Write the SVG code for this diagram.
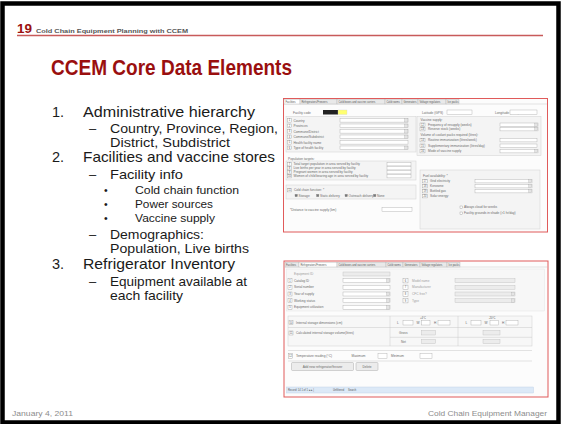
<svg xmlns="http://www.w3.org/2000/svg" width="561" height="424" viewBox="0 0 561 424">
<style>
.body{font-family:"Liberation Sans",Arial,sans-serif;fill:#1a1a1a}
.l1{font-size:14.5px}
.l2{font-size:13px}
.l3{font-size:10.5px}
.foot{font-family:"Liberation Sans",Arial,sans-serif;font-size:8px;fill:#8c8c8c}
.lb{font-family:"Liberation Sans",Arial,sans-serif;font-size:3.2px;fill:#6a6a6a}
.lbs{font-family:"Liberation Sans",Arial,sans-serif;font-size:2.6px;fill:#555}
.nm{font-family:"Liberation Sans",Arial,sans-serif;font-size:2.6px;fill:#555;text-anchor:middle}
.frame{fill:#fcfcfc;stroke:#e05a5a;stroke-width:1}
.pnl{fill:#f4f4f4;stroke:#d0d0d0;stroke-width:0.5}
.fld{fill:#ffffff;stroke:#a8a8a8;stroke-width:0.4}
.gfld{fill:#ececec;stroke:#bdbdbd;stroke-width:0.4}
.num{fill:#ffffff;stroke:#9a9a9a;stroke-width:0.4}
.dd{fill:#e4e4e4;stroke:#a8a8a8;stroke-width:0.3}
.tab{fill:#e9e9e9;stroke:#b4b4b4;stroke-width:0.4}
.tabon{fill:#ffffff;stroke:#b4b4b4;stroke-width:0.4}
.cb{fill:#ffffff;stroke:#888;stroke-width:0.35}
.cbx{fill:#777;stroke:#888;stroke-width:0.35}
.btn{fill:#ececec;stroke:#9a9a9a;stroke-width:0.4}
.ln{stroke:#c8c8c8;stroke-width:0.5;fill:none}
</style>

<rect x="0" y="0" width="561" height="424" fill="#ffffff"/>
<rect x="2.5" y="3.5" width="556" height="419" fill="none" stroke="#000" stroke-width="4.5"/>

<g id="header">
  <text x="17" y="33" font-family="Liberation Sans,Arial,sans-serif" font-weight="bold" font-size="13" fill="#9a1010" textLength="15" lengthAdjust="spacingAndGlyphs">19</text>
  <text x="36" y="33" font-family="Liberation Sans,Arial,sans-serif" font-weight="bold" font-size="6" fill="#555" textLength="152" lengthAdjust="spacingAndGlyphs">Cold Chain Equipment Planning with CCEM</text>
  <line x1="17" y1="35.5" x2="543" y2="35.5" stroke="#c85a5a" stroke-width="1.3"/>
</g>

<g id="title">
  <text x="51" y="75" font-family="Liberation Sans,Arial,sans-serif" font-weight="bold" font-size="22" fill="#9a0f0f" textLength="241" lengthAdjust="spacingAndGlyphs">CCEM Core Data Elements</text>
</g>

<g id="bullets" class="body">
  <text class="l1" x="52" y="117">1.</text>
  <text class="l1" x="83" y="117" textLength="172" lengthAdjust="spacingAndGlyphs">Administrative hierarchy</text>
  <text class="l2" x="89" y="133">–</text>
  <text class="l2" x="110" y="133" textLength="168" lengthAdjust="spacingAndGlyphs">Country, Province, Region,</text>
  <text class="l2" x="110" y="147" textLength="120" lengthAdjust="spacingAndGlyphs">District, Subdistrict</text>
  <text class="l1" x="52" y="162">2.</text>
  <text class="l1" x="83" y="162" textLength="192" lengthAdjust="spacingAndGlyphs">Facilities and vaccine stores</text>
  <text class="l2" x="89" y="179">–</text>
  <text class="l2" x="110" y="179" textLength="73" lengthAdjust="spacingAndGlyphs">Facility info</text>
  <text class="l3" x="104" y="194">•</text>
  <text class="l3" x="135" y="194" textLength="104" lengthAdjust="spacingAndGlyphs">Cold chain function</text>
  <text class="l3" x="104" y="208">•</text>
  <text class="l3" x="135" y="208" textLength="78" lengthAdjust="spacingAndGlyphs">Power sources</text>
  <text class="l3" x="104" y="222">•</text>
  <text class="l3" x="135" y="222" textLength="80" lengthAdjust="spacingAndGlyphs">Vaccine supply</text>
  <text class="l2" x="89" y="239">–</text>
  <text class="l2" x="110" y="239" textLength="94" lengthAdjust="spacingAndGlyphs">Demographics:</text>
  <text class="l2" x="110" y="253" textLength="139" lengthAdjust="spacingAndGlyphs">Population, Live births</text>
  <text class="l1" x="52" y="269">3.</text>
  <text class="l1" x="83" y="269" textLength="152" lengthAdjust="spacingAndGlyphs">Refrigerator Inventory</text>
  <text class="l2" x="89" y="286">–</text>
  <text class="l2" x="110" y="286" textLength="137" lengthAdjust="spacingAndGlyphs">Equipment available at</text>
  <text class="l2" x="110" y="300" textLength="73" lengthAdjust="spacingAndGlyphs">each facility</text>
</g>

<g id="screen-facilities" transform="translate(0,-3)">
  <rect class="frame" x="283.5" y="101.5" width="264" height="133.5"/>
  <line x1="284" y1="107" x2="547" y2="107" stroke="#bbb" stroke-width="0.4"/>
  <rect class="tabon" x="284" y="102.3" width="16" height="4.7"/>
  <rect class="tab" x="300" y="102.3" width="37" height="4.7"/>
  <rect class="tab" x="337" y="102.3" width="48" height="4.7"/>
  <rect class="tab" x="385" y="102.3" width="17" height="4.7"/>
  <rect class="tab" x="402" y="102.3" width="16" height="4.7"/>
  <rect class="tab" x="418" y="102.3" width="28" height="4.7"/>
  <rect class="tab" x="446" y="102.3" width="13" height="4.7"/>
  <text class="lbs" x="285.5" y="105.7">Facilities</text>
  <text class="lbs" x="301.5" y="105.7">Refrigerators/Freezers</text>
  <text class="lbs" x="338.5" y="105.7">Cold boxes and vaccine carriers</text>
  <text class="lbs" x="386.5" y="105.7">Cold rooms</text>
  <text class="lbs" x="403.5" y="105.7">Generators</text>
  <text class="lbs" x="419.5" y="105.7">Voltage regulators</text>
  <text class="lbs" x="447.5" y="105.7">Ice packs</text>

  <text class="lb" x="293" y="116.8">Facility code</text>
  <rect x="323" y="113" width="15" height="4.5" fill="#222"/>
  <rect x="338" y="113" width="9" height="4.5" fill="#ffff70" stroke="#ccc" stroke-width="0.3"/>

  <rect class="pnl" x="286" y="119.5" width="130" height="35.5"/>
  <g>
    <rect class="num" x="287.5" y="121.5" width="4" height="3.6"/><text class="nm" x="289.5" y="124.4">1</text>
    <text class="lb" x="293.5" y="124.6">Country</text>
    <rect class="fld" x="340" y="121.5" width="68" height="3.6"/><rect class="dd" x="404.5" y="121.6" width="3.4" height="3.4"/>
    <rect class="num" x="287.5" y="127" width="4" height="3.6"/><text class="nm" x="289.5" y="129.9">2</text>
    <text class="lb" x="293.5" y="130.1">Provinces</text>
    <rect class="fld" x="340" y="127" width="68" height="3.6"/><rect class="dd" x="404.5" y="127.1" width="3.4" height="3.4"/>
    <rect class="num" x="287.5" y="132.5" width="4" height="3.6"/><text class="nm" x="289.5" y="135.4">3</text>
    <text class="lb" x="293.5" y="135.6">Commune/District</text>
    <rect class="fld" x="340" y="132.5" width="68" height="3.6"/><rect class="dd" x="404.5" y="132.6" width="3.4" height="3.4"/>
    <rect class="num" x="287.5" y="138" width="4" height="3.6"/><text class="nm" x="289.5" y="140.9">4</text>
    <text class="lb" x="293.5" y="141.1">Commune/Subdistrict</text>
    <rect class="fld" x="340" y="138" width="68" height="3.6"/><rect class="dd" x="404.5" y="138.1" width="3.4" height="3.4"/>
    <rect class="num" x="287.5" y="143.5" width="4" height="3.6"/><text class="nm" x="289.5" y="146.4">5</text>
    <text class="lb" x="293.5" y="146.6">Health facility name</text>
    <rect class="fld" x="340" y="143.5" width="68" height="3.6"/>
    <rect class="num" x="287.5" y="149" width="4" height="3.6"/><text class="nm" x="289.5" y="151.9">6</text>
    <text class="lb" x="293.5" y="152.1">Type of health facility</text>
    <rect class="fld" x="340" y="149" width="68" height="3.6"/><rect class="dd" x="404.5" y="149.1" width="3.4" height="3.4"/>
  </g>

  <text class="lb" x="288" y="162.5">Population targets:</text>
  <rect class="pnl" x="286" y="164" width="130" height="19"/>
  <g>
    <rect class="num" x="287.5" y="165.5" width="4" height="3.4"/><text class="nm" x="289.5" y="168.2">7</text>
    <text class="lb" x="293.5" y="168.4">Total target population in area served by facility</text>
    <rect class="fld" x="387" y="165.5" width="24" height="3.4"/>
    <rect class="num" x="287.5" y="169.5" width="4" height="3.4"/><text class="nm" x="289.5" y="172.2">8</text>
    <text class="lb" x="293.5" y="172.4">Live births per year in area served by facility</text>
    <rect class="fld" x="387" y="169.5" width="24" height="3.4"/>
    <rect class="num" x="287.5" y="173.5" width="4" height="3.4"/><text class="nm" x="289.5" y="176.2">9</text>
    <text class="lb" x="293.5" y="176.4">Pregnant women in area served by facility</text>
    <rect class="fld" x="387" y="173.5" width="24" height="3.4"/>
    <rect class="num" x="287.5" y="177.5" width="4" height="3.4"/><text class="nm" x="289.5" y="180.2">10</text>
    <text class="lb" x="293.5" y="180.4">Women of child bearing age in area served by facility</text>
    <rect class="fld" x="387" y="177.5" width="24" height="3.4"/>
  </g>

  <rect class="pnl" x="286" y="188" width="130" height="14"/>
  <rect class="num" x="287.5" y="191.5" width="4" height="3.4"/><text class="nm" x="289.5" y="194.2">11</text>
  <text class="lb" x="294" y="194.4">Cold chain function: *</text>
  <rect class="cbx" x="295" y="197.3" width="2.4" height="2.4"/><text class="lb" x="298.5" y="199.7">Storage</text>
  <rect class="cbx" x="316.5" y="197.3" width="2.4" height="2.4"/><text class="lb" x="320" y="199.7">Static delivery</text>
  <rect class="cbx" x="345" y="197.3" width="2.4" height="2.4"/><text class="lb" x="348.5" y="199.7">Outreach delivery</text>
  <rect class="cbx" x="373.5" y="197.3" width="2.4" height="2.4"/><text class="lb" x="377" y="199.7">None</text>

  <text class="lb" x="290" y="213.5">*Distance to vaccine supply (km)</text>
  <rect class="fld" x="382" y="210.5" width="30" height="4"/>

  <text class="lb" x="422" y="116.8">Latitude (GPS)</text>
  <rect class="fld" x="447" y="113" width="25" height="4.5"/>
  <text class="lb" x="495" y="116.8">Longitude (GPS)</text>
  <rect class="fld" x="510" y="113" width="27" height="4.5"/>

  <rect class="pnl" x="417" y="119.5" width="124" height="39"/>
  <g>
    <text class="lb" x="420.5" y="123.5">Vaccine supply:</text>
    <rect class="num" x="420" y="126" width="5" height="3.4"/><text class="nm" x="422.5" y="128.7">12</text>
    <text class="lb" x="428" y="128.9">Frequency of resupply (weeks)</text>
    <rect class="fld" x="500" y="126" width="38" height="3.4"/><rect class="dd" x="534.6" y="126.1" width="3.2" height="3.2"/>
    <rect class="num" x="420" y="130.5" width="5" height="3.4"/><text class="nm" x="422.5" y="133.2">13</text>
    <text class="lb" x="428" y="133.4">Reserve stock (weeks)</text>
    <rect class="fld" x="500" y="130.5" width="38" height="3.4"/><rect class="dd" x="534.6" y="130.6" width="3.2" height="3.2"/>
    <text class="lb" x="420.5" y="139">Volume of coolant packs required (litres):</text>
    <rect class="num" x="420" y="141.5" width="5" height="3.4"/><text class="nm" x="422.5" y="144.2">14</text>
    <text class="lb" x="428" y="144.4">Routine immunization (litres/week)</text>
    <rect class="fld" x="500" y="141.5" width="37" height="3.4"/>
    <rect class="num" x="420" y="147" width="5" height="3.4"/><text class="nm" x="422.5" y="149.7">15</text>
    <text class="lb" x="428" y="149.9">Supplementary immunization (litres/day)</text>
    <rect class="fld" x="500" y="147" width="37" height="3.4"/>
    <rect class="num" x="420" y="152.5" width="5" height="3.4"/><text class="nm" x="422.5" y="155.2">16</text>
    <text class="lb" x="428" y="155.4">Mode of vaccine supply</text>
    <rect class="fld" x="500" y="152.5" width="38" height="3.4"/><rect class="dd" x="534.6" y="152.6" width="3.2" height="3.2"/>
  </g>

  <rect class="pnl" x="420" y="173" width="120" height="59"/>
  <g>
    <text class="lb" x="423" y="180">Fuel availability: *</text>
    <rect class="num" x="422.5" y="182.5" width="5" height="3.4"/><text class="nm" x="425" y="185.2">17</text>
    <text class="lb" x="430" y="185.4">Grid electricity</text>
    <rect class="fld" x="475" y="182.5" width="57" height="3.4"/><rect class="dd" x="528.6" y="182.6" width="3.2" height="3.2"/>
    <rect class="num" x="422.5" y="187.5" width="5" height="3.4"/><text class="nm" x="425" y="190.2">18</text>
    <text class="lb" x="430" y="190.4">Kerosene</text>
    <rect class="fld" x="475" y="187.5" width="57" height="3.4"/><rect class="dd" x="528.6" y="187.6" width="3.2" height="3.2"/>
    <rect class="num" x="422.5" y="192.5" width="5" height="3.4"/><text class="nm" x="425" y="195.2">19</text>
    <text class="lb" x="430" y="195.4">Bottled gas</text>
    <rect class="fld" x="475" y="192.5" width="57" height="3.4"/><rect class="dd" x="528.6" y="192.6" width="3.2" height="3.2"/>
    <rect class="num" x="422.5" y="197.5" width="5" height="3.4"/><text class="nm" x="425" y="200.2">20</text>
    <text class="lb" x="430" y="200.4">Solar energy:</text>
    <rect class="cb" x="460" y="209" width="2.4" height="2.4"/><text class="lb" x="464" y="211.3">Always cloud for weeks</text>
    <rect class="cb" x="460" y="215" width="2.4" height="2.4"/><text class="lb" x="464" y="217.3">Facility grounds in shade (&gt;1 hr/day)</text>
  </g>
</g>

<g id="screen-refrigerators" transform="translate(0,9)">
  <rect class="frame" x="284" y="252" width="264" height="136"/>
  <line x1="284.5" y1="258" x2="547.5" y2="258" stroke="#bbb" stroke-width="0.4"/>
  <rect class="tab" x="285" y="253.2" width="14" height="4.8"/>
  <rect class="tabon" x="299" y="253.2" width="38" height="4.8"/>
  <rect class="tab" x="337" y="253.2" width="49" height="4.8"/>
  <rect class="tab" x="386" y="253.2" width="17" height="4.8"/>
  <rect class="tab" x="403" y="253.2" width="17" height="4.8"/>
  <rect class="tab" x="420" y="253.2" width="27" height="4.8"/>
  <rect class="tab" x="447" y="253.2" width="13" height="4.8"/>
  <text class="lbs" x="286" y="256.6">Facilities</text>
  <text class="lbs" x="300.5" y="256.6">Refrigerators/Freezers</text>
  <text class="lbs" x="338.5" y="256.6">Cold boxes and vaccine carriers</text>
  <text class="lbs" x="387.5" y="256.6">Cold rooms</text>
  <text class="lbs" x="404.5" y="256.6">Generators</text>
  <text class="lbs" x="421.5" y="256.6">Voltage regulators</text>
  <text class="lbs" x="448.5" y="256.6">Ice packs</text>

  <rect x="286.5" y="260" width="258" height="42" fill="#f7f7f7" stroke="#dedede" stroke-width="0.4"/>
  <g>
    <text class="lb" x="294" y="266" style="fill:#a0a0a0">Equipment ID</text>
    <rect class="gfld" x="343" y="263" width="47" height="4"/>
    <rect class="num" x="288" y="269.7" width="4" height="4"/><text class="nm" x="290" y="272.7">1</text>
    <text class="lb" x="294" y="272.7">Catalog ID</text>
    <rect class="fld" x="343" y="269.7" width="47" height="4"/><rect class="dd" x="386.4" y="269.9" width="3.4" height="3.6"/>
    <rect class="num" x="288" y="276.3" width="4" height="4"/><text class="nm" x="290" y="279.3">2</text>
    <text class="lb" x="294" y="279.3">Serial number</text>
    <rect class="fld" x="343" y="276.3" width="47" height="4"/>
    <rect class="num" x="288" y="283" width="4" height="4"/><text class="nm" x="290" y="286">3</text>
    <text class="lb" x="294" y="286">Year of supply</text>
    <rect class="fld" x="343" y="283" width="47" height="4"/><rect class="dd" x="386.4" y="283.2" width="3.4" height="3.6"/>
    <rect class="num" x="288" y="289.7" width="4" height="4"/><text class="nm" x="290" y="292.7">4</text>
    <text class="lb" x="294" y="292.7">Working status</text>
    <rect class="fld" x="343" y="289.7" width="47" height="4"/><rect class="dd" x="386.4" y="289.9" width="3.4" height="3.6"/>
    <rect class="num" x="288" y="296.3" width="4" height="4"/><text class="nm" x="290" y="299.3">5</text>
    <text class="lb" x="294" y="299.3">Equipment utilization</text>
    <rect class="fld" x="343" y="296.3" width="47" height="4"/><rect class="dd" x="386.4" y="296.5" width="3.4" height="3.6"/>

    <rect class="num" x="403" y="269.5" width="5" height="4.4"/><text class="nm" x="405.5" y="272.7">6</text>
    <text class="lb" x="412" y="272.7" style="fill:#a0a0a0">Model name</text>
    <rect class="gfld" x="455" y="269.7" width="60" height="4"/>
    <rect class="num" x="403" y="276.1" width="5" height="4.4"/><text class="nm" x="405.5" y="279.3">7</text>
    <text class="lb" x="412" y="279.3" style="fill:#a0a0a0">Manufacturer</text>
    <rect class="gfld" x="455" y="276.3" width="60" height="4"/>
    <rect class="num" x="403" y="282.8" width="5" height="4.4"/><text class="nm" x="405.5" y="286">8</text>
    <text class="lb" x="412" y="286" style="fill:#a0a0a0">CFC free?</text>
    <rect class="gfld" x="455" y="283" width="60" height="4"/><rect class="dd" x="511.4" y="283.2" width="3.4" height="3.6"/>
    <rect class="num" x="403" y="289.5" width="5" height="4.4"/><text class="nm" x="405.5" y="292.7">9</text>
    <text class="lb" x="412" y="292.7" style="fill:#a0a0a0">Type</text>
    <rect class="gfld" x="455" y="289.7" width="60" height="4"/><rect class="dd" x="511.4" y="289.9" width="3.4" height="3.6"/>
  </g>

  <rect x="288" y="307" width="244" height="30" fill="#f7f7f7" stroke="#cfcfcf" stroke-width="0.5"/>
  <g>
    <line class="ln" x1="390" y1="307" x2="390" y2="337"/>
    <line class="ln" x1="458" y1="307" x2="458" y2="337"/>
    <line class="ln" x1="288" y1="318.5" x2="532" y2="318.5"/>
    <line class="ln" x1="390" y1="328.3" x2="532" y2="328.3"/>
    <rect class="num" x="289" y="311.5" width="4" height="4"/><text class="nm" x="291" y="314.5">10</text>
    <text class="lb" x="296" y="314.5">Internal storage dimensions (cm)</text>
    <text class="lbs" x="423" y="309.8" text-anchor="middle">+4°C</text>
    <text class="lbs" x="492" y="309.8" text-anchor="middle">-20°C</text>
    <text class="lb" x="397" y="315">L</text><rect class="fld" x="403" y="311.5" width="10" height="4.5"/>
    <text class="lb" x="416.5" y="315">W</text><rect class="fld" x="421.5" y="311.5" width="8.5" height="4.5"/>
    <text class="lb" x="434" y="315">H</text><rect class="fld" x="438" y="311.5" width="12" height="4.5"/>
    <text class="lb" x="465.5" y="315">L</text><rect class="fld" x="471" y="311.5" width="10" height="4.5"/>
    <text class="lb" x="484.5" y="315">W</text><rect class="fld" x="490" y="311.5" width="8.5" height="4.5"/>
    <text class="lb" x="502" y="315">H</text><rect class="fld" x="506" y="311.5" width="12" height="4.5"/>
    <rect class="num" x="289" y="322" width="4" height="4"/><text class="nm" x="291" y="325">11</text>
    <text class="lb" x="296" y="325.2">Calculated internal storage volume(litres)</text>
    <text class="lb" x="399" y="325">Gross</text>
    <rect class="gfld" x="421.5" y="321.5" width="14" height="4.5"/>
    <rect class="gfld" x="483" y="321.5" width="17" height="4.5"/>
    <text class="lb" x="401" y="333.7">Net</text>
    <rect class="gfld" x="421.5" y="330.3" width="14" height="4.5"/>
    <rect class="gfld" x="483" y="330.3" width="17" height="4.5"/>
  </g>

  <line class="ln" x1="288" y1="341.5" x2="532" y2="341.5"/>
  <line class="ln" x1="288" y1="352" x2="532" y2="352"/>
  <rect class="num" x="288.5" y="344.8" width="4" height="4.4"/><text class="nm" x="290.5" y="348">12</text>
  <text class="lb" x="296" y="348.3">Temperature reading (°C)</text>
  <text class="lb" x="351.5" y="348.3">Maximum</text>
  <rect class="fld" x="378" y="344.5" width="9" height="5"/>
  <text class="lb" x="391" y="348.3">Minimum</text>
  <rect class="fld" x="420" y="344.5" width="12" height="5"/>

  <rect class="btn" x="291.5" y="353.5" width="62" height="8" rx="1"/>
  <text class="lb" x="322.5" y="358.7" text-anchor="middle">Add new refrigerator/freezer</text>
  <rect class="btn" x="356" y="353.5" width="22" height="8" rx="1"/>
  <text class="lb" x="367" y="358.7" text-anchor="middle">Delete</text>

  <rect x="286.5" y="378" width="247" height="6" fill="#dce9f7" stroke="#b8cce4" stroke-width="0.4"/>
  <text class="lbs" x="288" y="382">Record: 14   1 of 1   ▸ ▸|</text>
  <text class="lbs" x="333" y="382">Unfiltered</text>
  <text class="lbs" x="348" y="382">Search</text>
</g>

<g id="footer">
  <text class="foot" x="12" y="416" textLength="61" lengthAdjust="spacingAndGlyphs">January 4, 2011</text>
  <text class="foot" x="547" y="416" text-anchor="end" textLength="119" lengthAdjust="spacingAndGlyphs">Cold Chain Equipment Manager</text>
</g>
</svg>
